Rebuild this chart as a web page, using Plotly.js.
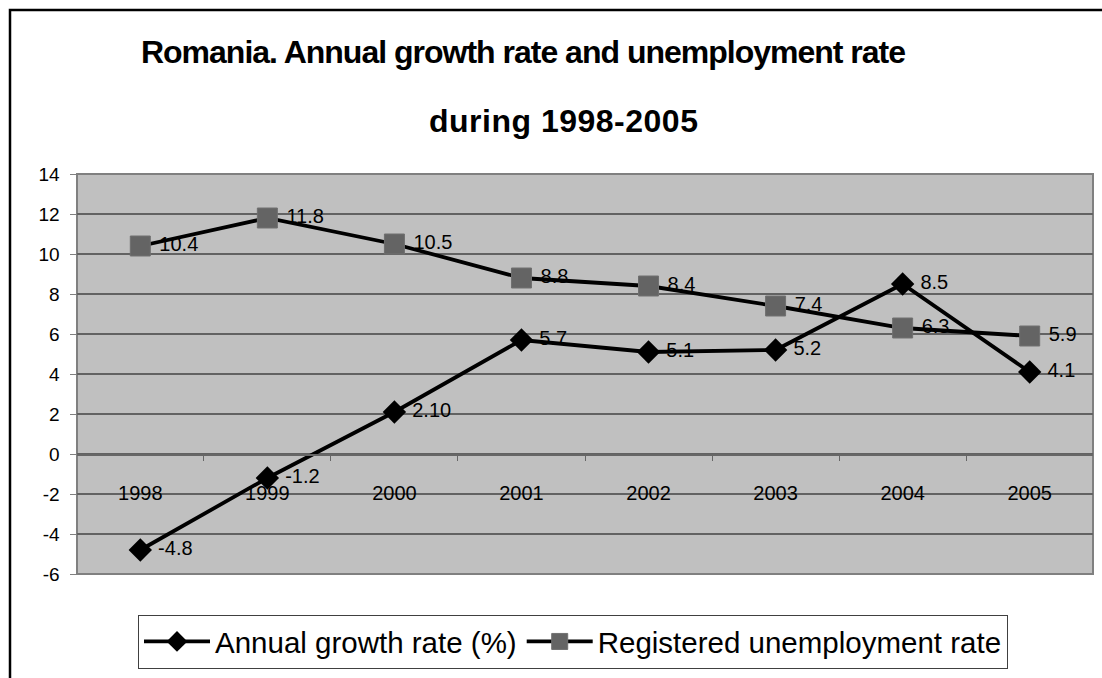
<!DOCTYPE html>
<html>
<head>
<meta charset="utf-8">
<script src="https://cdn.plot.ly/plotly-3.0.1.min.js"></script>
<style>
  html, body { margin: 0; padding: 0; background: #ffffff; }
  #chart { width: 1102px; height: 678px; }
  .g-gtitle text { letter-spacing: -1px; }
  .annotation[data-index="0"] text { letter-spacing: 0.5px; }
</style>
</head>
<body>
<div id="chart"></div>
<script>
const years = ["1998", "1999", "2000", "2001", "2002", "2003", "2004", "2005"];
const growthRate = [-4.8, -1.2, 2.1, 5.7, 5.1, 5.2, 8.5, 4.1];
const growthLabels = ["-4.8", "-1.2", "2.10", "5.7", "5.1", "5.2", "8.5", "4.1"];
const unemploymentRate = [10.4, 11.8, 10.5, 8.8, 8.4, 7.4, 6.3, 5.9];
const unemploymentLabels = ["10.4", "11.8", "10.5", "8.8", "8.4", "7.4", "6.3", "5.9"];
const yTicks = [-6, -4, -2, 0, 2, 4, 6, 8, 10, 12, 14];
const yTickLabels = ["-6", "-4", "-2", "0", "2", "4", "6", "8", "10", "12", "14"];

const FONT = "Liberation Sans, Arial, Helvetica, sans-serif";

const traces = [
  {
    type: "scatter", mode: "lines+markers+text",
    name: "Annual growth rate (%)",
    x: years, y: growthRate, text: growthLabels,
    texttemplate: "\u00a0%{text}",
    textposition: "middle right",
    textfont: { family: FONT, size: 20, color: "#000000" },
    line: { color: "#000000", width: 3.8 },
    marker: { symbol: "diamond", size: 18, color: "#000000" },
    cliponaxis: false
  },
  {
    type: "scatter", mode: "lines+markers+text",
    name: "Registered unemployment rate",
    x: years, y: unemploymentRate, text: unemploymentLabels,
    texttemplate: "\u00a0%{text}",
    textposition: "middle right",
    textfont: { family: FONT, size: 20, color: "#000000" },
    line: { color: "#000000", width: 3.8 },
    marker: { symbol: "square", size: 20, color: "#646464", line: { color: "#707070", width: 1 } },
    cliponaxis: false
  }
];

const L = 77, R = 1093, T = 174, B = 586;
const W = R - L, H = B - T;

const layout = {
  width: 1102, height: 678,
  margin: { l: L, r: 1102 - R, t: T, b: 678 - B, pad: 0 },
  paper_bgcolor: "#ffffff",
  plot_bgcolor: "#c0c0c0",
  font: { family: FONT, size: 19, color: "#000000" },
  showlegend: true,
  title: {
    text: "<b>Romania. Annual growth rate and unemployment rate</b>",
    font: { family: FONT, size: 32, color: "#000000" },
    x: 523 / 1102, xanchor: "center", xref: "container",
    y: 1 - 52 / 678, yanchor: "middle", yref: "container"
  },
  annotations: [
    {
      text: "<b>during 1998-2005</b>",
      font: { family: FONT, size: 32, color: "#000000" },
      xref: "paper", yref: "paper",
      x: (563 - L) / W, y: (B - 119) / H,
      xanchor: "center", yanchor: "middle", showarrow: false
    }
  ],
  xaxis: {
    type: "category",
    anchor: "free",
    position: 6 / 20,
    showline: true, linecolor: "#666666", linewidth: 1.5,
    ticks: "outside", ticklen: 5, tickwidth: 1, tickcolor: "#666666",
    tickson: "boundaries",
    showgrid: false, zeroline: false,
    ticklabelstandoff: 20,
    tickfont: { family: FONT, size: 20, color: "#000000" },
    fixedrange: true
  },
  yaxis: {
    range: [-6, 14],
    tickmode: "array", tickvals: yTicks, ticktext: yTickLabels,
    showline: true, linecolor: "#808080", linewidth: 1.5,
    ticks: "outside", ticklen: 6, tickwidth: 1, tickcolor: "#808080",
    showgrid: true, gridcolor: "#626262", gridwidth: 1.8,
    zeroline: false,
    ticklabelstandoff: 6,
    tickfont: { family: FONT, size: 19, color: "#000000" },
    fixedrange: true
  },
  legend: {
    orientation: "h",
    x: (138 - L) / W, xanchor: "left",
    y: (B - 628) / H, yanchor: "top",
    bgcolor: "#ffffff", bordercolor: "#404040", borderwidth: 1,
    font: { family: FONT, size: 29.5, color: "#000000" },
    itemwidth: 66,
    itemclick: false, itemdoubleclick: false
  },
  shapes: [
    {
      type: "rect", xref: "paper", yref: "paper",
      x0: (10 - L) / W, x1: (1120 - L) / W,
      y0: (B - 720) / H, y1: (B - 5) / H,
      line: { color: "#000000", width: 2.5 }, fillcolor: "rgba(0,0,0,0)", layer: "below"
    },
    {
      type: "rect", xref: "paper", yref: "paper",
      x0: 0, x1: 1, y0: 0, y1: 1,
      line: { color: "#808080", width: 2 }, fillcolor: "rgba(0,0,0,0)", layer: "below"
    }
  ],
  hovermode: false
};

Plotly.newPlot("chart", traces, layout, { displayModeBar: false, staticPlot: true });
</script>
</body>
</html>
